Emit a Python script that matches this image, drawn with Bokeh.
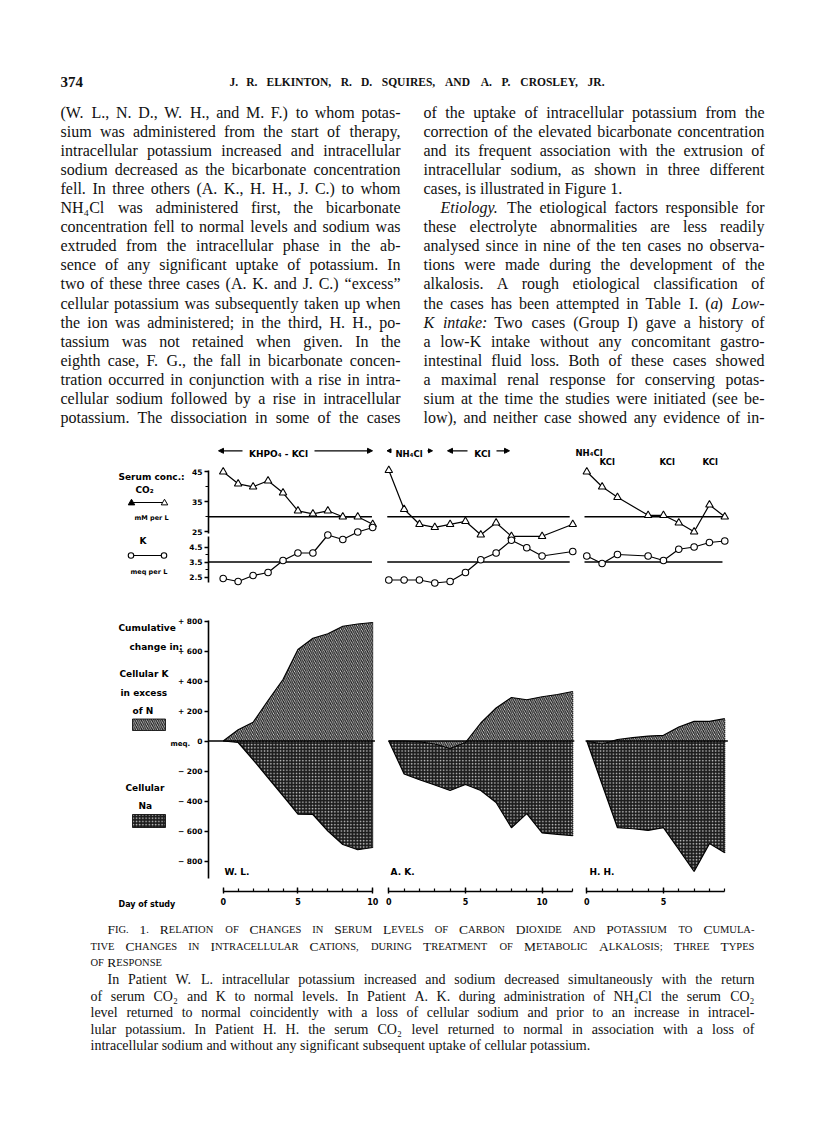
from bokeh.plotting import figure
from bokeh.models import Range1d, LinearAxis, FixedTicker, ColumnDataSource, Arrow, NormalHead
from bokeh.embed import file_html
from bokeh.resources import INLINE
from bokeh.core.properties import value

# ------------------------------------------------------------------ data
# Serum concentrations (top panels)
wl_serum_days = [0, 1, 2, 3, 4, 5, 6, 7, 8, 9, 10]
wl_co2 = [45, 41, 40, 42, 38, 32, 31, 32, 30, 30, 27.5]
wl_k = [2.4, 2.2, 2.6, 2.8, 3.6, 4.1, 4.1, 5.3, 5.0, 5.5, 5.8]

ak_co2_days = [0, 1, 2, 3, 4, 5, 6, 7, 8, 10, 12]
ak_co2 = [45.5, 32.5, 27.5, 26.5, 27.5, 28.5, 24, 28, 23.5, 23.5, 27.5]
ak_k_days = [0, 1, 2, 3, 4, 5, 6, 7, 8, 9, 10, 12]
ak_k = [2.3, 2.3, 2.3, 2.1, 2.2, 2.8, 3.65, 4.1, 4.95, 4.45, 3.9, 4.2]

hh_serum_days = [0, 1, 2, 4, 5, 6, 7, 8, 9]
hh_co2 = [45, 40, 36.5, 30.5, 30.5, 28, 25, 34, 30]
hh_k = [3.9, 3.4, 4.0, 3.9, 3.6, 4.35, 4.5, 4.8, 4.9]

co2_normal = 30
k_normal = 3.5

# Cumulative change in cellular cations, meq (bottom panels)
wl_days = [0, 1, 2, 3, 4, 5, 6, 7, 8, 9, 10]
wl_cum_k = [0, 75, 125, 270, 410, 610, 685, 715, 765, 780, 790]
wl_cum_na = [0, -10, -125, -245, -365, -488, -490, -600, -690, -725, -710]

ak_days = [0, 1, 2, 3, 4, 5, 6, 7, 8, 9, 10, 11, 12]
ak_cum_k = [0, 0, -5, -20, -50, -10, 120, 220, 290, 275, 295, 310, 330]
ak_cum_na = [0, -220, -258, -293, -330, -290, -330, -410, -578, -484, -613, -622, -631]

hh_days = [0, 1, 2, 3, 4, 5, 6, 7, 8, 9]
hh_cum_k = [0, -20, 10, 22, 33, 38, 93, 131, 131, 149]
hh_cum_na = [0, -290, -578, -585, -596, -578, -722, -870, -684, -745]

co2_ticks = [25, 35, 45]
co2_minor = [25, 30, 35, 40, 45]
k_ticks = [2.5, 3.5, 4.5]
k_minor = [2.5, 3.0, 3.5, 4.0, 4.5]
meq_ticks = [-800, -600, -400, -200, 0, 200, 400, 600, 800]
meq_labels = ["\u2212 800", "\u2212 600", "\u2212 400", "\u2212 200", "0",
              "+ 200", "+ 400", "+ 600", "+ 800"]

# ------------------------------------------------------------------ text
col1 = [
    "(W. L., N. D., W. H., and M. F.) to whom potas-",
    "sium was administered from the start of therapy,",
    "intracellular potassium increased and intracellular",
    "sodium decreased as the bicarbonate concentration",
    "fell.  In three others (A. K., H. H., J. C.) to whom",
    "NH\u2084Cl was administered first, the bicarbonate",
    "concentration fell to normal levels and sodium was",
    "extruded from the intracellular phase in the ab-",
    "sence of any significant uptake of potassium.  In",
    "two of these three cases (A. K. and J. C.) \u201cexcess\u201d",
    "cellular potassium was subsequently taken up when",
    "the ion was administered; in the third, H. H., po-",
    "tassium was not retained when given.  In the",
    "eighth case, F. G., the fall in bicarbonate concen-",
    "tration occurred in conjunction with a rise in intra-",
    "cellular sodium followed by a rise in intracellular",
    "potassium.  The dissociation in some of the cases",
]
col2 = [
    "of the uptake of intracellular potassium from the",
    "correction of the elevated bicarbonate concentration",
    "and its frequent association with the extrusion of",
    "intracellular sodium, as shown in three different",
    "cases, is illustrated in Figure 1.",
    "_Etiology._  The etiological factors responsible for",
    "these electrolyte abnormalities are less readily",
    "analysed since in nine of the ten cases no observa-",
    "tions were made during the development of the",
    "alkalosis.  A rough etiological classification of",
    "the cases has been attempted in Table I.  (_a_) _Low-_",
    "_K_ _intake:_ Two cases (Group I) gave a history of",
    "a low-K intake without any concomitant gastro-",
    "intestinal fluid loss.  Both of these cases showed",
    "a maximal renal response for conserving potas-",
    "sium at the time the studies were initiated (see be-",
    "low), and neither case showed any evidence of in-",
]
caption = [
    "Fig. 1. Relation of Changes in Serum Levels of Carbon Dioxide and Potassium to Cumula-",
    "tive Changes in Intracellular Cations, during Treatment of Metabolic Alkalosis; Three Types",
    "of Response",
]
legend_par = [
    "In Patient W. L. intracellular potassium increased and sodium decreased simultaneously with the return",
    "of serum CO\u2082 and K to normal levels.  In Patient A. K. during administration of NH\u2084Cl the serum CO\u2082",
    "level returned to normal coincidently with a loss of cellular sodium and prior to an increase in intracel-",
    "lular potassium.  In Patient H. H. the serum CO\u2082 level returned to normal in association with a loss of",
    "intracellular sodium and without any significant subsequent uptake of cellular potassium.",
]
header = "J. R. ELKINTON, R. D. SQUIRES, AND A. P. CROSLEY, JR."

# ------------------------------------------------------------------ page geometry
W, H = 800, 1100
PX0, PX1 = 8, 8 + W
PY0, PY1 = 8, 8 + H
AXIS_X = 216          # page x of the left axes
DAY_AXIS_Y = 899      # page y of the day axes


def xr(day0_px, px_per_day):
    return Range1d(start=(PX0 - day0_px) / px_per_day, end=(PX1 - day0_px) / px_per_day)


def yr(v0, p0, px_per_unit):
    return Range1d(start=v0 + (p0 - PY1) / px_per_unit, end=v0 + (p0 - PY0) / px_per_unit)


p = figure(width=W, height=H, x_range=Range1d(PX0, PX1), y_range=Range1d(PY1, PY0),
           output_backend="svg", toolbar_location=None, min_border=0,
           x_axis_location=None, y_axis_location=None)
p.outline_line_color = None
p.background_fill_color = "white"
p.border_fill_color = "white"
p.xgrid.visible = False
p.ygrid.visible = False

p.extra_x_ranges = {"wl": xr(230.7, 14.95), "ak": xr(396.3, 15.33), "hh": xr(594.3, 15.33)}
p.extra_y_ranges = {"co2": yr(30, 524.3, 3.0), "k": yr(3.5, 569.5, 15.0),
                    "meq": yr(0, 748.5, 0.15)}

LABEL_FONT = "DejaVu Sans"

# ------------------------------------------------------------------ axes


def style_axis(ax, size="7.5px"):
    ax.axis_line_width = 1.6
    ax.axis_line_color = "black"
    ax.major_tick_line_width = 1.4
    ax.minor_tick_line_width = 1.2
    ax.major_label_text_font = LABEL_FONT
    ax.major_label_text_font_style = "bold"
    ax.major_label_text_font_size = size
    ax.major_label_text_color = "black"


def left_axis(rname, ticks, minor, bounds, labels=None):
    ax = LinearAxis(y_range_name=rname, fixed_location=AXIS_X,
                    ticker=FixedTicker(ticks=ticks, minor_ticks=minor), bounds=bounds)
    style_axis(ax)
    ax.major_tick_out = 4
    ax.major_tick_in = 0
    ax.minor_tick_out = 3
    ax.minor_tick_in = 0
    ax.major_label_standoff = 2
    if labels:
        ax.major_label_overrides = {t: l for t, l in zip(ticks, labels)}
    p.add_layout(ax, "left")


left_axis("co2", co2_ticks, co2_minor, (24.4, 45.6))
left_axis("k", k_ticks, k_minor, (2.15, 5.2))
left_axis("meq", meq_ticks, [], (-915, 805), meq_labels)


def day_axis(rname, last_day):
    ax = LinearAxis(x_range_name=rname, fixed_location=DAY_AXIS_Y,
                    ticker=FixedTicker(ticks=[d for d in (0, 5, 10) if d <= last_day],
                                       minor_ticks=list(range(last_day + 1))),
                    bounds=(0, last_day))
    style_axis(ax, "8px")
    ax.major_tick_in = 4
    ax.major_tick_out = 2
    ax.minor_tick_in = 3
    ax.minor_tick_out = 0
    ax.major_label_standoff = 4
    p.add_layout(ax, "below")


day_axis("wl", 10)
day_axis("ak", 12)
day_axis("hh", 9)

# ------------------------------------------------------------------ cumulative areas
NA_STYLE = dict(fill_color="#1c1c1c", hatch_pattern="dot", hatch_color="#c8c8c8",
                hatch_scale=3.2, hatch_weight=1.0)
K_STYLE = dict(fill_color="#f0f0f0", hatch_pattern="left_diagonal_line",
               hatch_color="#1e1e1e", hatch_scale=4.2, hatch_weight=1.3)

panels_cum = [("wl", wl_days, wl_cum_k, wl_cum_na, (-0.97, 10.15)),
              ("ak", ak_days, ak_cum_k, ak_cum_na, (-0.03, 12.1)),
              ("hh", hh_days, hh_cum_k, hh_cum_na, (-0.08, 9.2))]
for name, days, ck, cn, span in panels_cum:
    zeros = [0] * len(days)
    p.varea(x=days, y1=zeros, y2=cn, x_range_name=name, y_range_name="meq", **NA_STYLE)
    p.varea(x=days, y1=zeros, y2=ck, x_range_name=name, y_range_name="meq", **K_STYLE)
    p.line(days, cn, x_range_name=name, y_range_name="meq", line_color="black", line_width=1.2)
    p.line(days, ck, x_range_name=name, y_range_name="meq", line_color="black", line_width=1.2)
    p.line([days[-1], days[-1]], [cn[-1], ck[-1]], x_range_name=name, y_range_name="meq",
           line_color="black", line_width=1.2, line_dash="1 1")
    p.line(list(span), [0, 0], x_range_name=name, y_range_name="meq",
           line_color="black", line_width=1.6)

# ------------------------------------------------------------------ serum panels
normal_spans = {"wl": (-0.97, 9.95), "ak": (-0.1, 11.8), "hh": (-0.15, 8.85)}
for name, (a, b) in normal_spans.items():
    p.line([a, b], [co2_normal, co2_normal], x_range_name=name, y_range_name="co2",
           line_color="black", line_width=1.5)
    p.line([a, b], [k_normal, k_normal], x_range_name=name, y_range_name="k",
           line_color="black", line_width=1.5)

serum = [("wl", wl_serum_days, wl_co2, wl_serum_days, wl_k),
         ("ak", ak_co2_days, ak_co2, ak_k_days, ak_k),
         ("hh", hh_serum_days, hh_co2, hh_serum_days, hh_k)]
for name, dc, co2, dk, kk in serum:
    p.line(dc, co2, x_range_name=name, y_range_name="co2", line_color="black", line_width=1.2)
    p.scatter(dc, co2, x_range_name=name, y_range_name="co2", marker="triangle", size=7.5,
              fill_color="white", line_color="black", line_width=1.1)
    p.line(dk, kk, x_range_name=name, y_range_name="k", line_color="black", line_width=1.2)
    p.scatter(dk, kk, x_range_name=name, y_range_name="k", marker="circle", size=6.5,
              fill_color="white", line_color="black", line_width=1.1)

# ------------------------------------------------------------------ legend samples (page coords)
p.line([140, 171], [510, 510], line_color="black", line_width=1.2)
p.scatter([139], [510.5], marker="triangle", size=6.5, fill_color="black", line_color="black")
p.scatter([172], [510.5], marker="triangle", size=6.5, fill_color="white", line_color="black")
p.line([140, 170], [563, 563], line_color="black", line_width=1.2)
p.scatter([138.5, 171.5], [563, 563], marker="circle", size=5.5, fill_color="white",
          line_color="black", line_width=1.1)
p.quad(left=[140], right=[173], top=[726.5], bottom=[738], line_color="black",
       line_width=0.8, **K_STYLE)
p.quad(left=[140], right=[173], top=[822], bottom=[835], line_color="black",
       line_width=0.8, **NA_STYLE)


# treatment arrows
def arrow(x0, x1, y, size=5):
    p.add_layout(Arrow(x_start=x0, y_start=y, x_end=x1, y_end=y, line_width=1.3,
                       line_color="black",
                       end=NormalHead(size=size, fill_color="black", line_color="black")))


arrow(250, 226, 458.3)
arrow(322, 380, 458.3)
arrow(398.5, 394.5, 458.3, 4)
arrow(435, 440, 458.3, 4)
arrow(475, 455, 458.3)
arrow(504, 517, 458.3)

# ------------------------------------------------------------------ chart labels
chart_labels = [
    ("Serum conc.:", 126, 484, "9px", "left"),
    ("CO\u2082", 143, 497, "9px", "left"),
    ("mM per L", 142, 525, "6.5px", "left"),
    ("K", 147, 548, "9px", "left"),
    ("meq per L", 138, 579, "6.5px", "left"),
    ("Cumulative", 126, 635, "9px", "left"),
    ("change in:", 137, 654, "9px", "left"),
    ("Cellular K", 127, 681, "9px", "left"),
    ("in excess", 128, 700, "9px", "left"),
    ("of N", 140, 718, "9px", "left"),
    ("meq.", 178, 751, "7px", "left"),
    ("Cellular", 133, 795, "9px", "left"),
    ("Na", 146, 813, "9px", "left"),
    ("W. L.", 232, 879, "9px", "left"),
    ("A. K.", 398, 879, "9px", "left"),
    ("H. H.", 597, 879, "9px", "left"),
    ("Day of study", 126, 911.5, "8px", "left"),
    ("KHPO\u2084 - KCl", 286, 461.5, "9px", "center"),
    ("NH\u2084Cl", 416.5, 461.5, "8.5px", "center"),
    ("KCl", 490, 461.5, "9px", "center"),
    ("NH\u2084Cl", 583, 460, "8.5px", "left"),
    ("KCl", 607, 469, "8.5px", "left"),
    ("KCl", 667, 469, "8.5px", "left"),
    ("KCl", 710, 469, "8.5px", "left"),
]
for align in ("left", "center"):
    items = [c for c in chart_labels if c[4] == align]
    src = ColumnDataSource(dict(x=[c[1] for c in items], y=[c[2] for c in items],
                                text=[c[0] for c in items], size=[c[3] for c in items]))
    p.text(x="x", y="y", text="text", source=src, text_font=value(LABEL_FONT),
           text_font_size="size", text_font_style="bold", text_align=align,
           text_baseline="alphabetic", text_color="black")

# ------------------------------------------------------------------ page text layout
TW = {' ': 250, '!': 333, '"': 408, "'": 180, '(': 333, ')': 333, ',': 250, '-': 333,
      '.': 250, ':': 278, ';': 278, 'A': 722, 'B': 667, 'C': 667, 'D': 722, 'E': 611,
      'F': 556, 'G': 722, 'H': 722, 'I': 333, 'J': 389, 'K': 722, 'L': 611, 'M': 889,
      'N': 722, 'O': 722, 'P': 556, 'Q': 722, 'R': 667, 'S': 556, 'T': 611, 'U': 722,
      'V': 722, 'W': 944, 'X': 722, 'Y': 722, 'Z': 611, 'a': 444, 'b': 500, 'c': 444,
      'd': 500, 'e': 444, 'f': 333, 'g': 500, 'h': 500, 'i': 278, 'j': 278, 'k': 500,
      'l': 278, 'm': 778, 'n': 500, 'o': 500, 'p': 500, 'q': 500, 'r': 333, 's': 389,
      't': 278, 'u': 500, 'v': 500, 'w': 722, 'x': 500, 'y': 500, 'z': 444,
      '\u201c': 444, '\u201d': 444, '\u2082': 400, '\u2084': 400}
for d in "0123456789":
    TW[d] = 500


def seg_w(text, size, style):
    w = sum(TW.get(c, 500) for c in text) / 1000.0 * size
    return w * (1.07 if "bold" in style else 1.0)


def parse_word(word, base="normal"):
    segs, buf, it = [], "", False
    for c in word:
        if c == "_":
            if buf:
                segs.append((buf, 1.0, "italic" if it else base))
            buf, it = "", not it
        else:
            buf += c
    if buf:
        segs.append((buf, 1.0, "italic" if it else base))
    return segs


def smallcaps_word(word, small=0.78):
    segs = []
    for c in word:
        rs = 1.0 if (c.isupper() or c.isdigit()) else small
        if segs and segs[-1][1] == rs:
            segs[-1] = (segs[-1][0] + c.upper(), rs, "normal")
        else:
            segs.append((c.upper(), rs, "normal"))
    return segs


rows = dict(x=[], y=[], text=[], size=[], style=[], align=[])


def emit(x, y, t, size, style, align="left"):
    rows["x"].append(x)
    rows["y"].append(y)
    rows["text"].append(t)
    rows["size"].append("%.2fpx" % size)
    rows["style"].append(style)
    rows["align"].append(align)


def words_em(words):
    return sum(seg_w(t, rs, st) for w in words for t, rs, st in w)


def fit_size(lines_words, width, max_size, min_gap=0.22):
    s = max_size
    for ws in lines_words:
        n = len(ws)
        s = min(s, width / (words_em(ws) + (n - 1) * min_gap))
    return s


def layout_line(ws, x0, x1, y, size, justify):
    widths = [sum(seg_w(t, size * rs, st) for t, rs, st in w) for w in ws]
    n = len(ws)
    gap = (x1 - x0 - sum(widths)) / (n - 1) if (justify and n > 1) else 0.25 * size
    x = x0
    for i, w in enumerate(ws):
        if justify and n > 1 and i == n - 1 and len(w) == 1:
            t, rs, st = w[0]
            emit(x1, y, t, size * rs, st, "right")
        else:
            xx = x
            for t, rs, st in w:
                emit(xx, y, t, size * rs, st)
                xx += seg_w(t, size * rs, st)
        x += widths[i] + gap


# header
emit(68, 89, "374", 15, "bold")
hw = [parse_word(w, "bold") for w in header.split()]
layout_line(hw, 237, 612, 89, 11.5, True)

# body columns
BODY_Y0, BODY_DY = 120.0, 19.05
C1 = (68, 408)
C2 = (431, 772)
c1w = [[parse_word(w) for w in ln.split()] for ln in col1]
c2w = [[parse_word(w) for w in ln.split()] for ln in col2]
bsize = fit_size([c1w[i] for i in range(len(c1w))] +
                 [c2w[i] for i in range(len(c2w)) if i not in (4,)], 340, 16.0)
for i, ws in enumerate(c1w):
    layout_line(ws, C1[0], C1[1], BODY_Y0 + i * BODY_DY, bsize, True)
for i, ws in enumerate(c2w):
    x0 = C2[0] + (17 if i == 5 else 0)
    layout_line(ws, x0, C2[1], BODY_Y0 + i * BODY_DY, bsize, i != 4)

# figure caption (small caps)
CAP_L, CAP_R, CAP_IND = 98, 762, 115
capw = [[smallcaps_word(w) for w in ln.split()] for ln in caption]
csize = fit_size(capw[:2], CAP_R - CAP_L, 13.5)
cap_y = [937, 953.5, 970]
for i, ws in enumerate(capw):
    x0 = CAP_IND if i == 0 else CAP_L
    layout_line(ws, x0, CAP_R, cap_y[i], csize, i < 2)

parw = [[parse_word(w) for w in ln.split()] for ln in legend_par]
psize = fit_size(parw[:4], CAP_R - CAP_L, 14.0)
par_y = [987, 1003.5, 1020, 1036.5, 1053]
for i, ws in enumerate(parw):
    x0 = CAP_IND if i == 0 else CAP_L
    layout_line(ws, x0, CAP_R, par_y[i], psize, i < 4)

for align in ("left", "right"):
    idx = [i for i, a in enumerate(rows["align"]) if a == align]
    src = ColumnDataSource({k: [rows[k][i] for i in idx] for k in ("x", "y", "text", "size", "style")})
    p.text(x="x", y="y", text="text", source=src, text_font=value("Liberation Serif"),
           text_font_size="size", text_font_style="style", text_align=align,
           text_baseline="alphabetic", text_color="#111111")

open("out.html", "w").write(file_html(p, INLINE))
